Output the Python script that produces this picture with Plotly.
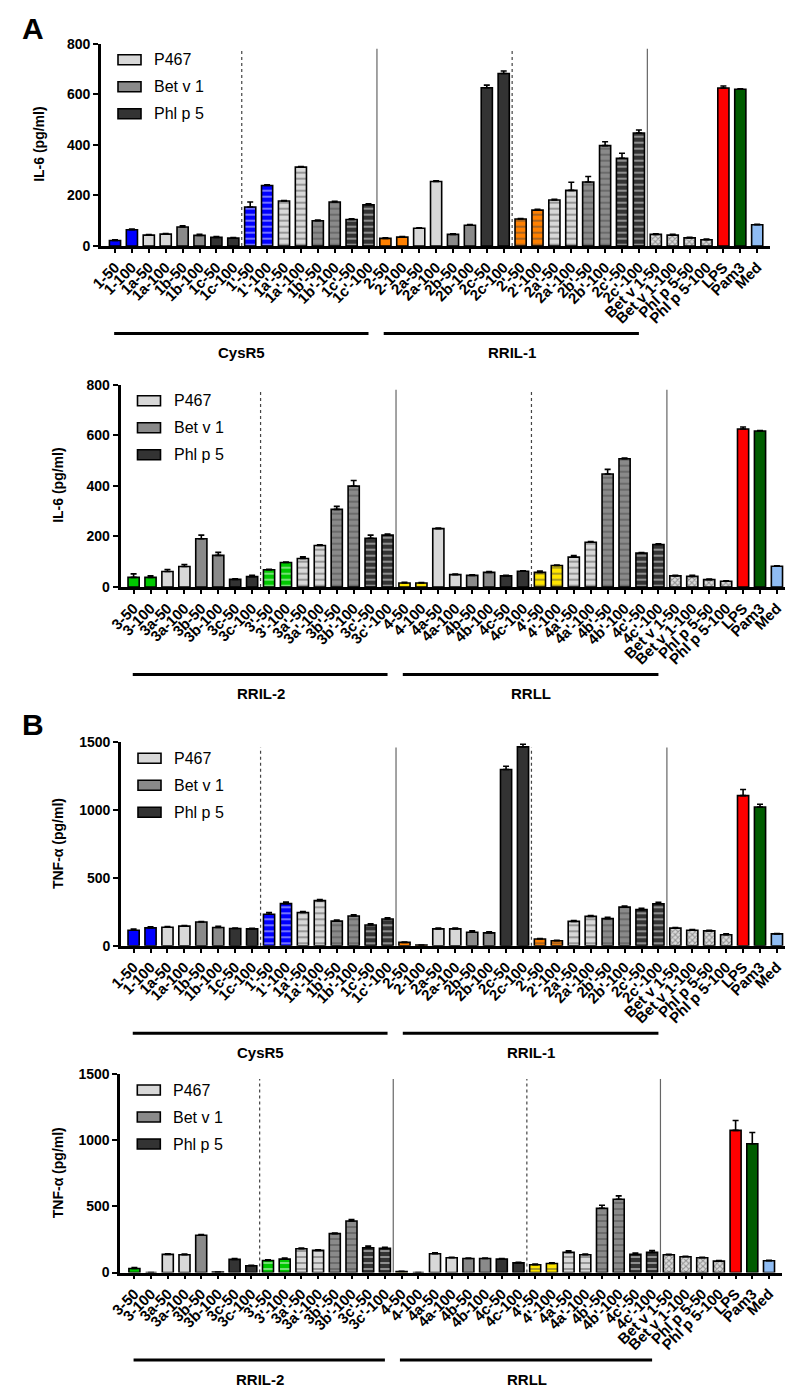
import plotly.graph_objects as go

W, H = 793, 1391

# ---------------- data ----------------
labels_il6_top = ["1-50", "1-100", "1a-50", "1a-100", "1b-50", "1b-100", "1c-50", "1c-100",
                  "1'-50", "1'-100", "1a'-50", "1a'-100", "1b'-50", "1b'-100", "1c'-50", "1c'-100",
                  "2-50", "2-100", "2a-50", "2a-100", "2b-50", "2b-100", "2c-50", "2c-100",
                  "2'-50", "2'-100", "2a'-50", "2a'-100", "2b'-50", "2b'-100", "2c'-50", "2c'-100",
                  "Bet v 1-50", "Bet v 1-100", "Phl p 5-50", "Phl p 5-100", "LPS", "Pam3", "Med"]
labels_il6_bot = ["3-50", "3-100", "3a-50", "3a-100", "3b-50", "3b-100", "3c-50", "3c-100",
                  "3'-50", "3'-100", "3a'-50", "3a'-100", "3b'-50", "3b'-100", "3c'-50", "3c'-100",
                  "4-50", "4-100", "4a-50", "4a-100", "4b-50", "4b-100", "4c-50", "4c-100",
                  "4'-50", "4'-100", "4a'-50", "4a'-100", "4b'-50", "4b'-100", "4c'-50", "4c'-100",
                  "Bet v 1-50", "Bet v 1-100", "Phl p 5-50", "Phl p 5-100", "LPS", "Pam3", "Med"]

il6_top = [22, 64, 43, 47, 75, 42, 34, 31, 154, 239, 178, 312, 100, 174, 105, 163,
           30, 35, 70, 255, 46, 82, 626, 682, 107, 142, 182, 220, 253, 397, 347, 447,
           46, 43, 32, 25, 625, 620, 84]
il6_top_err = [3, 3, 2, 2, 5, 4, 3, 2, 20, 3, 2, 2, 3, 3, 3, 4,
               2, 2, 2, 3, 2, 3, 10, 10, 2, 3, 3, 32, 22, 15, 20, 12,
               2, 3, 2, 2, 8, 2, 2]

il6_bot = [38, 38, 61, 81, 191, 125, 30, 41, 68, 97, 113, 164, 307, 399, 193, 205,
           16, 16, 231, 49, 46, 58, 44, 62, 58, 85, 118, 177, 447, 507, 134, 168,
           44, 42, 29, 23, 625, 617, 82]
il6_bot_err = [14, 6, 8, 8, 14, 12, 2, 5, 2, 2, 6, 3, 12, 22, 12, 4,
               3, 2, 2, 2, 2, 3, 2, 2, 5, 2, 6, 3, 18, 3, 2, 3,
               2, 4, 2, 2, 8, 2, 2]

tnf_top = [115, 132, 137, 145, 175, 135, 127, 125, 233, 311, 245, 333, 182, 220, 153, 197,
           25, 5, 125, 125, 100, 95, 1299, 1466, 50, 37, 180, 217, 200, 285, 267, 310,
           130, 115, 110, 82, 1107, 1023, 88]
tnf_top_err = [8, 8, 4, 4, 4, 8, 4, 4, 12, 12, 8, 8, 8, 8, 10, 10,
               3, 1, 6, 6, 10, 8, 25, 20, 4, 4, 6, 6, 10, 8, 10, 10,
               4, 4, 4, 6, 45, 20, 3]

tnf_bot = [30, 0, 137, 134, 281, 3, 99, 51, 91, 101, 180, 167, 294, 389, 187, 182,
           8, 0, 142, 111, 106, 106, 101, 73, 58, 68, 152, 134, 486, 554, 137, 152,
           134, 119, 111, 86, 1074, 973, 89]
tnf_bot_err = [8, 0, 4, 6, 5, 0, 6, 3, 5, 8, 4, 4, 4, 12, 12, 8,
               1, 0, 6, 4, 4, 4, 4, 5, 5, 5, 12, 6, 22, 25, 10, 14,
               3, 3, 3, 5, 75, 85, 3]

legend_names = ["P467", "Bet v 1", "Phl p 5"]
groups_top = ["CysR5", "RRIL-1"]
groups_bot = ["RRIL-2", "RRLL"]

# ---------------- styles ----------------
FONT = "Liberation Sans, Arial, sans-serif"
BASE_COL = {"1": "#0000ff", "2": "#ff8000", "3": "#00c800", "4": "#ffe600"}
LET_COL = {"a": "#d8d8d8", "b": "#8a8a8a", "c": "#333333"}
LEG_COL = [LET_COL["a"], LET_COL["b"], LET_COL["c"]]


def style(label):
    name = label.rsplit("-", 1)[0]
    if label == "LPS":
        return "#ff0000", "", "#ff0000"
    if label == "Pam3":
        return "#005c00", "", "#005c00"
    if label == "Med":
        return "#8fbcf3", "", "#8fbcf3"
    if name in ("Bet v 1", "Phl p 5"):
        return "#dcdcdc", "x", "#7a7a7a"
    col = BASE_COL[name[0]]
    if len(name) > 1 and name[1] in LET_COL:
        col = LET_COL[name[1]]
    if "'" in name:
        return col, "-", "#ffffff"
    return col, "", col


def px2x(p):
    return p / W


def py2y(p):
    return 1 - p / H


panels = [
    dict(labels=labels_il6_top, vals=il6_top, errs=il6_top_err, ymax=800, dtick=200,
         ytitle="IL-6 (pg/ml)", c0=107.0, s=16.9, L=93.0, T=35.7, B=238.0, groups=groups_top, tx=31),
    dict(labels=labels_il6_bot, vals=il6_bot, errs=il6_bot_err, ymax=800, dtick=200,
         ytitle="IL-6 (pg/ml)", c0=125.6, s=16.93, L=112.5, T=376.7, B=579.0, groups=groups_bot, tx=50),
    dict(labels=labels_il6_top, vals=tnf_top, errs=tnf_top_err, ymax=1500, dtick=500,
         ytitle="TNF-α (pg/ml)", c0=125.6, s=16.93, L=113.0, T=734.3, B=937.8, groups=groups_top, tx=50),
    dict(labels=labels_il6_bot, vals=tnf_bot, errs=tnf_bot_err, ymax=1500, dtick=500,
         ytitle="TNF-α (pg/ml)", c0=126.4, s=16.7, L=112.3, T=1066.0, B=1264.5, groups=groups_bot, tx=50),
]

fig = go.Figure()
shapes = []
annotations = []
layout = {}

for i, p in enumerate(panels):
    n = i + 1
    xs = "" if n == 1 else str(n)
    xa, ya = "x" + xs, "y" + xs
    xpos = list(range(len(p["labels"])))
    cols, shps, fgs = zip(*[style(l) for l in p["labels"]])
    fig.add_trace(go.Bar(
        x=xpos, y=p["vals"], xaxis=xa, yaxis=ya, width=0.66, showlegend=False,
        marker=dict(color=list(cols), line=dict(color="black", width=1.6),
                    pattern=dict(shape=list(shps), fgcolor=list(fgs), bgcolor=list(cols),
                                 size=[4 if s == "x" else 6 for s in shps],
                                 solidity=[0.45 if s == "x" else 0.3 for s in shps])),
        error_y=dict(type="data", symmetric=False, array=p["errs"],
                     arrayminus=[0] * len(p["errs"]), color="black", thickness=1.6, width=3),
    ))
    x_end = 38.75
    xr = [(p["L"] - p["c0"]) / p["s"], x_end]
    right_px = p["c0"] + x_end * p["s"]
    layout["xaxis" + xs] = dict(
        domain=[px2x(p["L"]), px2x(right_px)], range=xr, anchor=ya,
        tickmode="array", tickvals=xpos, ticktext=p["labels"], tickangle=-45,
        tickfont=dict(family=FONT, size=15, color="black", weight="bold"),
        ticks="outside", ticklen=4, tickwidth=1.8, tickcolor="black",
        showline=True, linecolor="black", linewidth=2.5, showgrid=False,
        zeroline=False, automargin=False, fixedrange=True)
    layout["yaxis" + xs] = dict(
        domain=[py2y(p["B"]), py2y(p["T"])], range=[0, p["ymax"]], anchor=xa,
        tickmode="linear", tick0=0, dtick=p["dtick"],
        tickfont=dict(family=FONT, size=14, color="black", weight="bold"),
        ticks="outside", ticklen=5, tickwidth=2.2, tickcolor="black",
        showline=True, linecolor="black", linewidth=2.8, showgrid=False,
        zeroline=False, automargin=False, fixedrange=True)

    # separators
    for xv, dash, colr in [(7.5, "dot", "#444444"), (15.5, "solid", "#666666"),
                           (23.5, "dot", "#444444"), (31.5, "solid", "#666666")]:
        shapes.append(dict(type="line", xref=xa, yref=ya + " domain", x0=xv, x1=xv, y0=0, y1=0.975,
                           line=dict(color=colr, width=1.2, dash=dash), layer="below"))

    # group lines + labels
    line_y = p["B"] + 87.5
    lab_y = p["B"] + 106.5
    for (g0, g1, gc), gname in zip([(-0.05, 15.0, 7.5), (15.9, 31.0, 23.5)], p["groups"]):
        shapes.append(dict(type="line", xref=xa, yref="paper", x0=g0, x1=g1,
                           y0=py2y(line_y), y1=py2y(line_y), line=dict(color="black", width=3)))
        annotations.append(dict(xref=xa, yref="paper", x=gc, y=py2y(lab_y), text=gname,
                                showarrow=False, xanchor="center", yanchor="middle",
                                font=dict(family=FONT, size=15, color="black", weight="bold")))

    # legend
    for k, (nm, lc) in enumerate(zip(legend_names, LEG_COL)):
        y0 = p["T"] + 11 + 27 * k
        shapes.append(dict(type="rect", xref="paper", yref="paper",
                           x0=px2x(p["L"] + 17), x1=px2x(p["L"] + 40),
                           y0=py2y(y0 + 10), y1=py2y(y0), fillcolor=lc,
                           line=dict(color="black", width=1.6)))
        annotations.append(dict(xref="paper", yref="paper", x=px2x(p["L"] + 51), y=py2y(y0 + 5),
                                text=nm, showarrow=False, xanchor="left", yanchor="middle",
                                font=dict(family=FONT, size=16, color="black")))

    # y title
    annotations.append(dict(xref="paper", yref="paper", x=px2x(p["tx"]),
                            y=py2y((p["T"] + p["B"]) / 2), text=p["ytitle"], textangle=-90,
                            showarrow=False, xanchor="center", yanchor="middle",
                            font=dict(family=FONT, size=14, color="black", weight="bold")))

# panel letters
for letter, (lx, ly) in [("A", (25, 20)), ("B", (25, 716))]:
    annotations.append(dict(xref="paper", yref="paper", x=px2x(lx), y=py2y(ly), text=letter,
                            showarrow=False, xanchor="center", yanchor="middle",
                            font=dict(family=FONT, size=30, color="black", weight="bold")))

fig.update_layout(width=W, height=H, margin=dict(l=0, r=0, t=0, b=0),
                  paper_bgcolor="white", plot_bgcolor="white", bargap=0.3,
                  shapes=shapes, annotations=annotations, **layout)

fig.write_html("out.html")
